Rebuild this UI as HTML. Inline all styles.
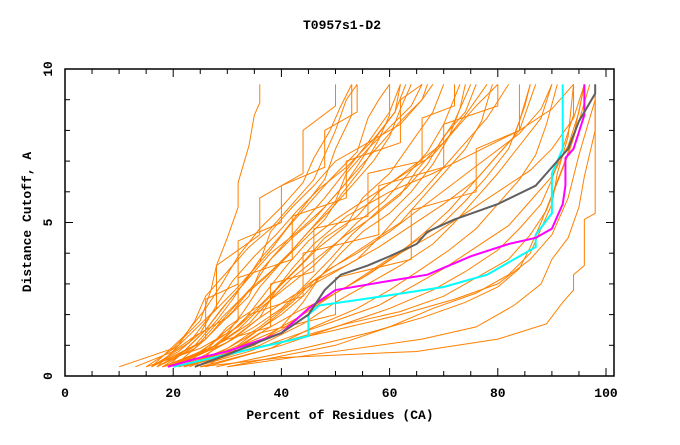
<!DOCTYPE html>
<html><head><meta charset="utf-8"><style>
body{margin:0;background:#fff}
svg text{font-family:"Liberation Mono",monospace;font-weight:bold;font-size:13px;fill:#000}
</style></head><body>
<svg id="chart" width="680" height="440">
<text x="342" y="29" text-anchor="middle">T0957s1-D2</text>
<text x="340" y="419" text-anchor="middle">Percent of Residues (CA)</text>
<text transform="translate(31,222) rotate(-90)" text-anchor="middle">Distance Cutoff, A</text>
<g id="marks"></g>
<g id="axes"></g>
</svg>
<script>
const xTicks=[0,20,40,60,80,100];
const yTicks=[0,5,10];
const orangeSeries=[
[[10,0.3],[20,0.9],[25,1.8],[27,2.8],[28,3.6],[30,4.5],[32,5.5],[32,6.3],[34,7.5],[35,8.5],[36,8.9],[36,9.5]],
[[25,0.3],[40,0.6],[65,0.8],[80,1.2],[89,1.7],[92,2.4],[94,2.8],[94,3.3],[96,3.6],[96,5.1],[98,5.3],[98,9.5]],
[[30,0.3],[50,0.8],[66,1.2],[76,1.6],[83,2.3],[88,3.0],[90,3.8],[93,4.5],[95,5.5],[96,6.5],[98,8.0],[98,9.5]],
[[22,0.3],[35,0.9],[50,1.5],[62,2.0],[72,2.5],[80,3.0],[86,3.8],[90,4.6],[93,5.8],[95,7.2],[97,8.4],[98,9.0]],
[[15,0.3],[25,0.9],[32,1.6],[38,2.6],[42,3.5],[46,4.3],[52,5.2],[60,6.0],[68,6.6],[76,7.3],[84,8.0],[90,8.7],[94,9.5]],
[[16,0.3],[24,1.0],[28,1.8],[31,2.5],[34,3.3],[38,4.1],[41,4.8],[45,5.6],[49,6.4],[54,7.3],[56,8.4],[58,9.0],[60,9.5]],
[[18,0.3],[26,0.8],[30,1.6],[36,2.3],[40,3.0],[44,3.7],[48,4.5],[54,5.2],[58,6.0],[64,6.8],[70,7.6],[74,8.5],[78,9.5]],
[[20,0.3],[28,0.7],[34,1.3],[40,2.0],[44,2.6],[48,3.4],[54,4.0],[60,4.7],[66,5.5],[72,6.3],[78,7.1],[84,7.9],[88,8.7],[90,9.5]],
[[17,0.3],[22,0.8],[26,1.5],[29,2.2],[33,3.0],[36,3.8],[40,4.6],[44,5.5],[48,6.4],[50,7.4],[53,8.5],[53,9.5]],
[[19,0.3],[27,0.9],[33,1.8],[37,2.7],[41,3.6],[45,4.4],[50,5.1],[56,5.8],[62,6.5],[68,7.2],[72,8.0],[76,8.8],[80,9.5]],
[[21,0.3],[30,0.8],[38,1.4],[44,2.0],[50,2.7],[56,3.3],[62,4.0],[68,4.6],[74,5.3],[80,6.0],[86,6.7],[90,7.4],[94,8.4],[96,9.5]],
[[16,0.3],[23,1.1],[27,2.0],[32,2.9],[36,3.7],[38,4.7],[42,5.5],[46,6.2],[50,7.0],[56,7.6],[62,8.2],[66,9.0],[68,9.5]],
[[23,0.3],[32,1.0],[38,1.8],[42,2.4],[46,3.1],[52,3.6],[58,4.2],[64,4.9],[70,5.6],[76,6.4],[80,7.2],[84,8.0],[86,9.0],[87,9.5]],
[[18,0.3],[25,0.6],[31,1.2],[36,1.9],[39,2.8],[43,3.5],[47,4.2],[52,4.9],[55,5.8],[60,6.6],[64,7.6],[68,8.6],[70,9.5]],
[[20,0.3],[26,1.2],[30,2.0],[34,2.8],[38,3.4],[42,4.1],[46,4.9],[50,5.7],[52,6.6],[56,7.4],[60,8.1],[64,8.8],[66,9.5]],
[[24,0.3],[34,0.8],[42,1.3],[50,1.8],[58,2.3],[64,2.9],[70,3.5],[76,4.2],[82,4.9],[86,5.7],[90,6.5],[93,7.5],[95,8.6],[96,9.5]],
[[16,0.3],[21,0.8],[25,1.4],[28,2.3],[31,3.1],[35,3.9],[39,4.6],[43,5.4],[47,6.1],[52,6.8],[57,7.7],[61,8.6],[63,9.5]],
[[19,0.3],[29,1.0],[35,1.6],[40,2.2],[44,2.9],[49,3.8],[53,4.6],[58,5.4],[63,6.1],[67,6.9],[70,7.8],[74,8.6],[76,9.5]],
[[22,0.3],[31,0.8],[37,1.5],[43,2.1],[49,2.6],[55,3.2],[61,3.9],[66,4.6],[71,5.4],[75,6.2],[79,7.0],[83,7.8],[85,8.8],[86,9.5]],
[[17,0.3],[24,0.9],[29,1.9],[33,2.6],[37,3.2],[41,3.9],[45,4.7],[49,5.4],[53,6.2],[57,7.0],[60,7.8],[62,8.7],[64,9.5]],
[[15,0.3],[21,1.0],[24,1.8],[26,2.6],[30,3.4],[34,4.2],[38,4.8],[42,5.6],[46,6.4],[48,7.2],[50,8.0],[52,9.0],[54,9.5]],
[[21,0.3],[33,0.9],[40,1.5],[46,2.3],[52,2.9],[58,3.6],[64,4.3],[70,5.0],[74,5.7],[78,6.5],[82,7.4],[84,8.3],[86,9.5]],
[[18,0.3],[27,0.9],[32,1.5],[36,2.2],[41,2.9],[46,3.6],[50,4.3],[54,5.0],[59,5.7],[63,6.5],[67,7.3],[70,8.2],[73,9.5]],
[[13,0.3],[20,0.8],[24,1.3],[30,1.9],[34,2.6],[36,3.4],[40,4.2],[44,5.0],[48,5.8],[52,6.7],[56,7.6],[60,8.6],[62,9.5]],
[[26,0.3],[40,1.0],[50,1.6],[60,2.2],[68,2.8],[74,3.4],[80,4.1],[84,4.8],[88,5.6],[90,6.4],[92,7.4],[94,8.5],[94,9.5]],
[[20,0.3],[30,1.1],[36,1.9],[42,2.6],[48,3.2],[54,3.8],[58,4.5],[62,5.3],[66,6.0],[70,6.8],[74,7.6],[78,8.4],[82,9.5]],
[[17,0.3],[26,1.2],[31,2.1],[35,3.0],[38,3.8],[42,4.5],[46,5.1],[50,5.9],[54,6.7],[58,7.5],[62,8.3],[66,9.0],[67,9.5]],
[[28,0.3],[44,0.9],[56,1.4],[66,1.9],[74,2.4],[80,2.9],[84,3.5],[86,4.2],[88,5.0],[90,5.9],[92,6.8],[94,7.8],[96,9.5]],
[[19,0.3],[25,0.8],[30,1.4],[33,2.1],[36,2.9],[40,3.7],[44,4.4],[48,5.1],[51,5.9],[55,6.8],[58,7.7],[60,8.5],[60,9.5]],
[[22,0.3],[30,0.9],[36,1.6],[41,2.3],[45,3.0],[50,3.6],[56,4.3],[62,5.0],[66,5.8],[70,6.6],[74,7.4],[77,8.3],[79,9.5]],
[[24,0.3],[36,1.0],[44,1.7],[50,2.4],[56,3.0],[62,3.6],[68,4.3],[72,5.0],[76,5.8],[80,6.6],[84,7.5],[88,8.4],[90,9.5]],
[[16,0.3],[22,1.3],[26,2.2],[29,3.0],[32,3.9],[36,4.8],[40,5.5],[44,6.3],[46,7.1],[49,8.0],[51,8.8],[53,9.5]],
[[20,0.3],[32,0.8],[42,1.2],[52,1.7],[62,2.1],[70,2.6],[76,3.2],[82,3.8],[86,4.6],[89,5.4],[91,6.3],[93,7.2],[95,8.3],[97,9.5]],
[[18,0.3],[28,1.0],[34,1.7],[38,2.5],[42,3.2],[47,3.9],[52,4.6],[57,5.2],[62,5.9],[65,6.7],[69,7.5],[72,8.3],[75,9.5]],
[[25,0.3],[38,0.9],[46,1.6],[54,2.2],[60,2.8],[66,3.5],[71,4.1],[76,4.8],[80,5.6],[84,6.4],[87,7.2],[89,8.2],[91,9.5]],
[[19,0.3],[26,1.5],[30,2.4],[34,3.2],[38,4.0],[43,4.7],[48,5.5],[52,6.3],[55,7.1],[58,7.9],[61,8.6],[62,9.5]],
[[30,0.3],[50,1.0],[60,1.6],[68,2.2],[76,2.7],[82,3.3],[86,4.0],[88,4.8],[90,5.6],[91,6.6],[93,7.8],[94,9.5]],
[[21,0.3],[28,0.6],[35,1.0],[40,1.6],[44,2.4],[47,3.2],[51,4.0],[55,4.7],[60,5.3],[64,6.0],[68,6.9],[71,7.8],[73,8.7],[74,9.5]],
[[18,0.3],[26,1.2],[26,2.5],[32,3.0],[32,4.4],[40,5.0],[40,6.2],[48,6.8],[48,8.0],[54,8.6],[54,9.5]],
[[22,0.3],[32,1.8],[32,3.2],[42,3.8],[42,5.2],[52,5.8],[52,7.0],[62,7.6],[62,9.0],[66,9.5]],
[[20,0.3],[30,1.2],[38,1.6],[38,3.0],[46,3.4],[46,4.8],[56,5.2],[56,6.6],[66,7.0],[66,8.4],[72,8.8],[72,9.5]],
[[24,0.3],[34,2.0],[44,2.6],[44,4.0],[58,4.6],[58,6.2],[70,6.8],[70,8.2],[80,8.8],[80,9.5]],
[[26,0.3],[36,1.4],[50,2.0],[50,3.2],[64,3.8],[64,5.4],[76,6.0],[76,7.4],[84,8.0],[84,9.5]],
[[17,0.3],[28,2.2],[28,3.6],[36,4.6],[36,5.8],[44,6.6],[44,8.0],[50,8.8],[50,9.5]]
];
const grayX=[24,30,40,45,48,51,56,60,65,67,72,80,87,90,93,95,97,98,98];
const grayY=[0.3,0.7,1.4,2.0,2.8,3.3,3.6,3.9,4.3,4.7,5.1,5.6,6.2,6.8,7.4,8.3,8.9,9.2,9.5];
const magentaX=[19,25,30,35,40,45,50,60,67,75,82,87,90,92,92.5,92.5,94,96,96];
const magentaY=[0.3,0.6,0.8,1.1,1.4,2.2,2.8,3.1,3.3,3.9,4.3,4.5,4.8,5.6,6.2,7.1,7.4,8.5,9.5];
const cyanX=[20,30,40,45,45,47,55,70,78,87,87,90,90,92,92];
const cyanY=[0.3,0.7,1.1,1.3,2.0,2.3,2.5,2.9,3.3,4.2,4.6,5.3,6.6,7.4,9.5];

const L=65,R=614,T=69,B=376;
const xs=v=>L+v*5.41;
const ys=v=>B-v*30.7;
const NS="http://www.w3.org/2000/svg";
const marks=document.getElementById('marks');
const axes=document.getElementById('axes');
function mk(tag,attrs,parent){const e=document.createElementNS(NS,tag);for(const k in attrs)e.setAttribute(k,attrs[k]);parent.appendChild(e);return e;}
orangeSeries.forEach((s,i)=>{
  const p=mk('polyline',{points:s.map(d=>xs(d[0])+','+ys(d[1])).join(' '),fill:'none',stroke:'#ff8000','stroke-width':1},marks);
  
  
});
function hl(X,Y,col,name){
  const p=mk('polyline',{points:X.map((x,i)=>xs(x)+','+ys(Y[i])).join(' '),fill:'none',stroke:col,'stroke-width':2},marks);
  
  
}
hl(cyanX,cyanY,'#00ffff','cyan-series');
hl(magentaX,magentaY,'#ff00ff','magenta-series');
hl(grayX,grayY,'#606060','gray-series');
const frame=mk('rect',{x:L,y:T,width:R-L,height:B-T,fill:'none',stroke:'#000','stroke-width':1.5},axes);


for(let v=0;v<=100;v+=5){
  const len=v%20===0?8:5;
  mk('line',{x1:xs(v),x2:xs(v),y1:B,y2:B-len,stroke:'#000'},axes);
  mk('line',{x1:xs(v),x2:xs(v),y1:T,y2:T+len,stroke:'#000'},axes);
}
for(let v=0;v<=10;v++){
  const len=v%5===0?8:5;
  mk('line',{x1:L,x2:L+len,y1:ys(v),y2:ys(v),stroke:'#000'},axes);
  mk('line',{x1:R,x2:R-len,y1:ys(v),y2:ys(v),stroke:'#000'},axes);
}
xTicks.forEach(v=>{
  const t=mk('text',{x:xs(v),y:397,'text-anchor':'middle'},axes);t.textContent=v;
  
  
});
yTicks.forEach(v=>{
  const t=mk('text',{transform:'translate(52,'+ys(v)+') rotate(-90)','text-anchor':'middle'},axes);t.textContent=v;
  
  
});
</script>
</body></html>
